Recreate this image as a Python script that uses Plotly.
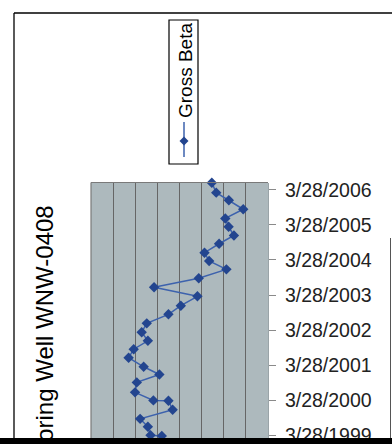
import plotly.graph_objects as go

# ---- data ----
dates = ["1999-03-20", "1999-03-26", "1999-06-23", "1999-09-14", "1999-12-17",
         "2000-03-20", "2000-03-24", "2000-06-16", "2000-09-28", "2000-12-19",
         "2001-03-10", "2001-06-12", "2001-09-09", "2001-12-06", "2002-03-05",
         "2002-06-06", "2002-09-08", "2002-12-07", "2003-03-15", "2003-06-17",
         "2003-09-19", "2003-12-21", "2004-03-17", "2004-06-12", "2004-09-13",
         "2004-12-08", "2005-03-10", "2005-06-04", "2005-09-08", "2005-12-11",
         "2006-02-28", "2006-06-12"]
gross_beta = [3.20, 2.69, 2.57, 2.22, 3.69,
              3.50, 2.82, 1.99, 2.07, 3.09,
              2.38, 1.70, 1.93, 2.57, 2.29,
              2.52, 3.50, 4.06, 4.81, 2.85,
              4.87, 6.12, 5.34, 5.13, 5.79,
              6.46, 6.22, 6.07, 6.88, 6.23,
              5.66, 5.46]
tick_dates = ["1999-03-28", "2000-03-28", "2001-03-28", "2002-03-28",
              "2003-03-28", "2004-03-28", "2005-03-28", "2006-03-28"]
tick_labels = ["3/28/1999", "3/28/2000", "3/28/2001", "3/28/2002",
               "3/28/2003", "3/28/2004", "3/28/2005", "3/28/2006"]
series_name = "Gross Beta"
title_text = "Monitoring Well WNW-0408"

W, H = 392, 444
def px(x):
    return x / W
def py(y):
    return (H - y) / H

FONT = "Liberation Sans, Arial, sans-serif"
LINE_C = "#3d62ad"
MARK_C = "#23458f"

fig = go.Figure()
fig.add_trace(go.Scatter(
    x=gross_beta, y=dates, mode="lines+markers", name=series_name,
    line=dict(color=LINE_C, width=1.5),
    marker=dict(symbol="diamond", size=8, color=MARK_C),
    cliponaxis=False, showlegend=False))

fig.update_layout(
    width=W, height=H,
    margin=dict(l=0, r=0, t=0, b=0, autoexpand=False),
    paper_bgcolor="white",
    plot_bgcolor="#adb9bd",
    font=dict(family=FONT, color="black"),
    xaxis=dict(domain=[px(91), px(268)], range=[0, 8], dtick=1,
               showgrid=True, gridcolor="#666666", gridwidth=1,
               showticklabels=False, zeroline=False, showline=False,
               ticks="", automargin=False),
    yaxis=dict(domain=[py(438), py(182.5)], type="date",
               range=["1999-02-26", "2006-06-14"],
               side="right", tickvals=tick_dates, ticktext=tick_labels,
               ticks="outside", ticklen=7, tickcolor="#8a8a8a",
               ticklabelstandoff=5, ticklabeloverflow="allow",
               automargin=False,
               tickfont=dict(size=19.5, family=FONT, color="#222"),
               showgrid=False, zeroline=False,
               showline=True, linecolor="#9aa4a8", linewidth=1,
               mirror=False),
)

shapes = []
# plot area top and left edges
shapes.append(dict(type="line", xref="paper", yref="paper",
                   x0=px(91), x1=px(268), y0=py(182.5), y1=py(182.5),
                   line=dict(color="#7a7a7a", width=1.2)))
shapes.append(dict(type="line", xref="paper", yref="paper",
                   x0=px(91), x1=px(91), y0=py(182.5), y1=py(438),
                   line=dict(color="#7a7a7a", width=1.2)))
# outer border lines
shapes.append(dict(type="line", xref="paper", yref="paper",
                   x0=px(14), x1=1, y0=py(13), y1=py(13),
                   line=dict(color="black", width=1.3)))
shapes.append(dict(type="line", xref="paper", yref="paper",
                   x0=px(14), x1=px(14), y0=py(13), y1=py(438),
                   line=dict(color="black", width=1.3)))
shapes.append(dict(type="line", xref="paper", yref="paper",
                   x0=px(390.5), x1=px(390.5), y0=py(238), y1=py(438),
                   line=dict(color="#555", width=1)))
# legend box
shapes.append(dict(type="rect", xref="paper", yref="paper",
                   x0=px(169), x1=px(198), y0=py(164), y1=py(20),
                   line=dict(color="black", width=1.2), fillcolor="white"))
shapes.append(dict(type="line", xref="paper", yref="paper",
                   x0=px(184), x1=px(184), y0=py(122), y1=py(157),
                   line=dict(color=LINE_C, width=1.5)))
shapes.append(dict(type="path", xref="paper", yref="paper",
                   path=f"M {px(184)} {py(136.5)} L {px(188.5)} {py(141)} L {px(184)} {py(145.5)} L {px(179.5)} {py(141)} Z",
                   fillcolor=MARK_C, line=dict(color=MARK_C, width=0)))
# dark band at the bottom
shapes.append(dict(type="rect", xref="paper", yref="paper",
                   x0=0, x1=1, y0=0, y1=py(438),
                   fillcolor="black", line=dict(width=0), layer="above"))
fig.update_layout(shapes=shapes)

fig.add_annotation(text=series_name, textangle=-90, showarrow=False,
                   xref="paper", yref="paper", x=px(185), y=py(71),
                   xanchor="center", yanchor="middle",
                   font=dict(size=19, family=FONT, color="black"))
fig.add_annotation(text=title_text, textangle=-90, showarrow=False,
                   xref="paper", yref="paper", x=px(44), y=py(204),
                   xanchor="center", yanchor="top",
                   font=dict(size=24, family=FONT, color="black"))

fig.write_html("out.html",
               config={"displayModeBar": False},
               post_script="document.body.style.margin='0';document.body.style.overflow='hidden';document.documentElement.style.overflow='hidden';")
